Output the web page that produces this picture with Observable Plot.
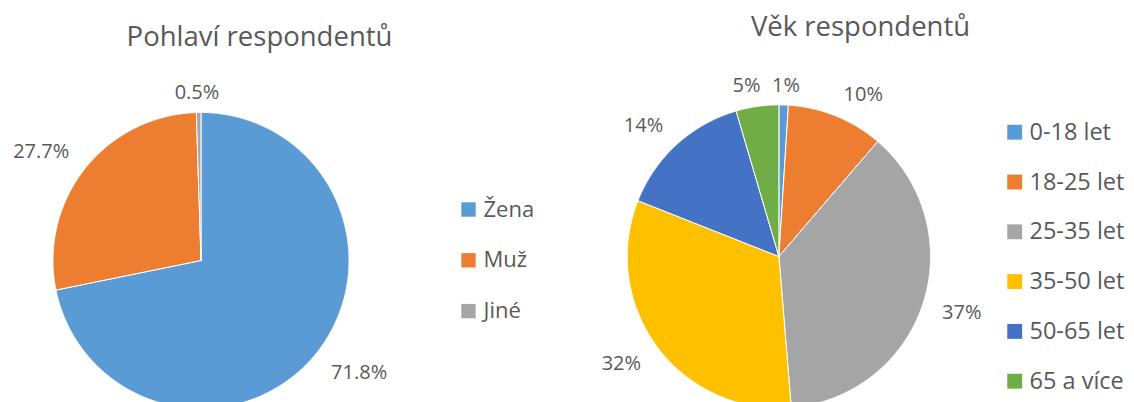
<!DOCTYPE html>
<html>
<head>
<meta charset="utf-8">
<script src="https://cdn.jsdelivr.net/npm/d3@7"></script>
<script src="https://cdn.jsdelivr.net/npm/@observablehq/plot@0.6"></script>
<style>
  html, body { margin: 0; padding: 0; background: #fff; overflow: hidden; }
  #chart svg { display: block; }
</style>
</head>
<body>
<div id="chart"></div>
<script>
// ---- data ----
const genderTitle = "Pohlaví respondentů";
const genderCategories = ["Žena", "Muž", "Jiné"];
const genderValues = [71.8, 27.7, 0.5];
const genderLabels = ["71.8%", "27.7%", "0.5%"];

const ageTitle = "Věk respondentů";
const ageCategories = ["0-18 let", "18-25 let", "25-35 let", "35-50 let", "50-65 let", "65 a více"];
const ageValues = [1.0, 10.3, 37.4, 32.3, 14.45, 4.55];
const ageLabels = ["1%", "10%", "37%", "32%", "14%", "5%"];

const genderColors = ["#5B9BD5", "#ED7D31", "#A5A5A5"];
const ageColors = ["#5B9BD5", "#ED7D31", "#A5A5A5", "#FFC000", "#4472C4", "#70AD47"];

// ---- layout ----
const W = 1134, H = 402;
const TEXT = "#595959";
const pies = [
  {id: "g", title: genderTitle, cats: genderCategories, vals: genderValues, labels: genderLabels,
   cx: 200.5, cy: 260, r: 148, titleX: 259, titleY: 45,
   legX: 468, legY0: 209, legStep: 50.8, legR: 8.1, legFont: 22},
  {id: "a", title: ageTitle, cats: ageCategories, vals: ageValues, labels: ageLabels,
   cx: 778.4, cy: 256, r: 151.6, titleX: 860, titleY: 35,
   legX: 1014.2, legY0: 131.7, legStep: 49.8, legR: 8.4, legFont: 23.5}
];

const charW = ch => (ch === "%" ? 16.6 : ch === "." ? 5.3 : 11.4);
const textW = s => d3.sum([...s], charW);

const slicePts = [], labelPts = [], titlePts = [], legendPts = [];
for (const p of pies) {
  const total = d3.sum(p.vals);
  let acc = 0;
  p.cats.forEach((c, i) => {
    const a0 = acc / total * 2 * Math.PI;
    acc += p.vals[i];
    const a1 = acc / total * 2 * Math.PI;
    const key = p.id + ":" + c;
    slicePts.push({key, cat: c, x: p.cx, y: p.cy});
    const n = Math.max(2, Math.ceil((a1 - a0) / 0.005));
    for (let k = 0; k <= n; k++) {
      const a = a0 + (a1 - a0) * k / n;
      slicePts.push({key, cat: c, x: p.cx + p.r * Math.sin(a), y: p.cy - p.r * Math.cos(a)});
    }
    slicePts.push({key, cat: c, x: p.cx, y: p.cy});

    // data label (outside end)
    const m = (a0 + a1) / 2;
    const ux = Math.sin(m), uy = -Math.cos(m);
    const R = p.r + 20;
    const ax = p.cx + R * ux, ay = p.cy + R * uy;
    const w = textW(p.labels[i]);
    const g = Math.max(-1, Math.min(1, 4 * ux));
    const lx = ax + (w / 2) * g;
    const ly = ay + 10 * uy * Math.abs(ux);
    labelPts.push({x: lx, y: ly + 7, text: p.labels[i]});

    legendPts.push({cat: c, x: p.legX, y: p.legY0 + i * p.legStep, r: p.legR, font: p.legFont});
  });
  titlePts.push({x: p.titleX, y: p.titleY, text: p.title});
}

const chart = Plot.plot({
  width: W, height: H, margin: 0,
  x: {domain: [0, W], range: [0, W], axis: null},
  y: {domain: [0, H], range: [0, H], axis: null},
  color: {domain: [...genderCategories, ...ageCategories], range: [...genderColors, ...ageColors]},
  style: {fontFamily: "'Open Sans', sans-serif", background: "#fff", overflow: "hidden"},
  marks: [
    Plot.line(slicePts, {x: "x", y: "y", z: "key", fill: "cat", stroke: "#fff", strokeWidth: 1, strokeLinejoin: "round", curve: "linear"}),
    Plot.text(labelPts, {x: "x", y: "y", text: "text", fontSize: 20, fill: TEXT, textAnchor: "middle", lineAnchor: "bottom"}),
    Plot.text(titlePts, {x: "x", y: "y", text: "text", fontSize: 27.5, fill: TEXT, textAnchor: "middle", lineAnchor: "bottom"}),
    Plot.dot(legendPts.filter(d => genderCategories.includes(d.cat)), {x: "x", y: "y", symbol: "square", r: 8.1, fill: "cat", stroke: null}),
    Plot.dot(legendPts.filter(d => ageCategories.includes(d.cat)), {x: "x", y: "y", symbol: "square", r: 8.4, fill: "cat", stroke: null}),
    Plot.text(legendPts.filter(d => genderCategories.includes(d.cat)), {x: d => d.x + 15, y: "y", text: "cat", fontSize: 22, fill: TEXT, textAnchor: "start", lineAnchor: "middle"}),
    Plot.text(legendPts.filter(d => ageCategories.includes(d.cat)), {x: d => d.x + 14.8, y: "y", text: "cat", fontSize: 23.5, fill: TEXT, textAnchor: "start", lineAnchor: "middle"})
  ]
});
document.getElementById("chart").appendChild(chart);
</script>
</body>
</html>
